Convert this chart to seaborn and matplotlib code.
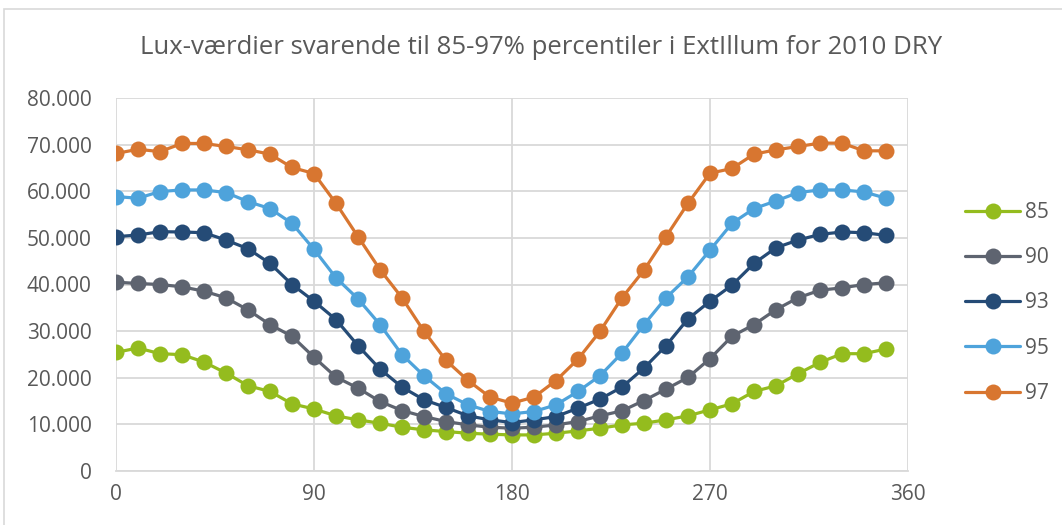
import numpy as np
import pandas as pd
import matplotlib
matplotlib.use("Agg")
import matplotlib.pyplot as plt
from matplotlib.patches import Rectangle
from matplotlib.ticker import FuncFormatter
import seaborn as sns

# Orientation (degrees) and lux values per percentile
degrees = list(range(0, 360, 10))
percentiles = ["85", "90", "93", "95", "97"]

lux_85 = [25450, 26380, 25160, 24950, 23370, 21010, 18280, 17060, 14410, 13300,
          11830, 10970, 10250, 9390, 8820, 8460, 8100, 7890, 7740, 7740,
          8100, 8600, 9180, 9890, 10250, 10970, 11830, 13120, 14410, 17060,
          18280, 20860, 23290, 25160, 25160, 26170]
lux_90 = [40500, 40220, 40000, 39500, 38570, 37140, 34550, 31400, 28890, 24400,
          20140, 17780, 14910, 12970, 11680, 10610, 9890, 9390, 9180, 9390,
          9890, 10610, 11830, 12900, 15120, 17560, 20070, 24100, 28890, 31400,
          34620, 37140, 38780, 39280, 40000, 40360]
lux_93 = [50260, 50610, 51330, 51260, 51110, 49530, 47670, 44520, 40000, 36420,
          32470, 26880, 21860, 18000, 15270, 13620, 11830, 10970, 10390, 10970,
          11680, 13480, 15420, 18000, 22080, 26880, 32620, 36410, 39860, 44520,
          47890, 49530, 50750, 51260, 51110, 50540]
lux_95 = [58860, 58500, 59940, 60280, 60280, 59720, 57780, 56280, 53120, 47530,
          41430, 36920, 31400, 24950, 20430, 16560, 14190, 12760, 12260, 12760,
          14190, 17060, 20430, 25300, 31400, 37140, 41650, 47380, 53120, 56280,
          57920, 59720, 60280, 60280, 59860, 58500]
lux_97 = [68100, 69000, 68500, 70250, 70250, 69600, 68900, 67950, 65100, 63800,
          57400, 50260, 43200, 37140, 29960, 23720, 19420, 15840, 14560, 15850,
          19400, 24000, 29960, 37140, 43080, 50260, 57420, 63870, 64880, 67960,
          68880, 69600, 70320, 70320, 68670, 68670]

series = dict(zip(percentiles, [lux_85, lux_90, lux_93, lux_95, lux_97]))
colors = ["#94BC1E", "#5E6470", "#254B76", "#4EA3DB", "#D87630"]

df = pd.DataFrame(
    [(d, v, p) for p, vals in series.items() for d, v in zip(degrees, vals)],
    columns=["grader", "lux", "percentil"],
)

sns.set_theme(style="white")
plt.rcParams["font.family"] = ["Open Sans", "DejaVu Sans"]

text_color = "#595959"
grid_color = "#D9D9D9"

fig = plt.figure(figsize=(10.62, 5.25), dpi=100)
ax = fig.add_axes([116 / 1062, 1 - 471 / 525, (908 - 116) / 1062, (471 - 98) / 525])

sns.lineplot(
    data=df, x="grader", y="lux", hue="percentil", hue_order=percentiles,
    palette=colors, marker="o", markersize=11.5, markeredgewidth=0,
    linewidth=2.3, ax=ax, legend=True, zorder=3,
)

ax.set_xlim(0, 360)
ax.set_ylim(0, 80000)
ax.set_xticks([0, 90, 180, 270, 360])
ax.set_yticks(np.arange(0, 80001, 10000))
ax.yaxis.set_major_formatter(
    FuncFormatter(lambda v, _: "0" if v == 0 else f"{int(v):,}".replace(",", "."))
)
ax.grid(True, color=grid_color, linewidth=1.3, zorder=0)
ax.set_axisbelow(True)
for side in ["top", "right", "left"]:
    ax.spines[side].set_visible(False)
ax.spines["bottom"].set_color(grid_color)
ax.spines["bottom"].set_linewidth(1.3)
ax.tick_params(axis="both", length=0, labelsize=15, colors=text_color)
ax.tick_params(axis="x", pad=9)
ax.tick_params(axis="y", pad=17.5)
ax.set_xlabel("")
ax.set_ylabel("")

handles, labels = ax.get_legend_handles_labels()
ax.legend(
    handles, labels, loc="center left", bbox_to_anchor=(965 / 1062, 1 - 303 / 525),
    bbox_transform=fig.transFigure, frameon=False, fontsize=15,
    labelcolor=text_color, handlelength=2.65, labelspacing=1.16,
    handletextpad=0.25, borderaxespad=0, borderpad=0,
)

fig.text(541 / 1062, 1 - 47 / 525,
         "Lux-værdier svarende til 85-97% percentiler i ExtIllum for 2010 DRY",
         ha="center", va="center", fontsize=18.5, color=text_color)

fig.patches.append(Rectangle((4 / 1062, -0.1), 1.2, 1.1 - 9 / 525,
                             transform=fig.transFigure, fill=False,
                             edgecolor=grid_color, linewidth=1.2))

fig.savefig("out.png", dpi=100)
